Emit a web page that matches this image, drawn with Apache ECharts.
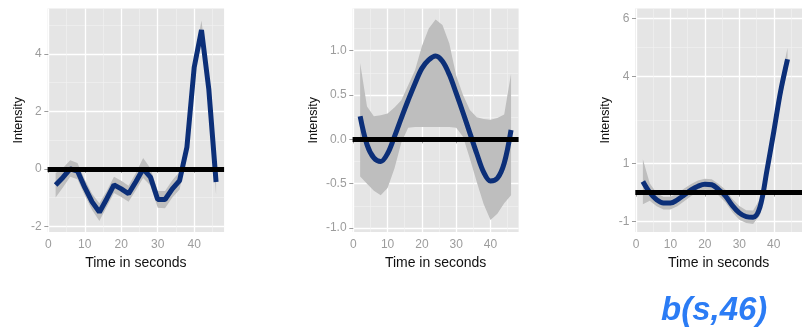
<!DOCTYPE html>
<html>
<head>
<meta charset="utf-8">
<script src="https://cdn.jsdelivr.net/npm/echarts@6/dist/echarts.min.js"></script>
<style>
  html, body { margin: 0; padding: 0; background: #fff; }
  #chart { width: 802px; height: 330px; }
</style>
</head>
<body>
<div id="chart"></div>
<script>
// time points (seconds)
const time = [2, 4, 6, 8, 10, 12, 14, 16, 18, 20, 22, 24, 26, 28, 30, 32, 34, 36, 38, 40, 42, 44, 46]
const time3 = [2, 4, 6, 8, 10, 12, 14, 16, 18, 20, 22, 24, 26, 28, 30, 32, 34, 36, 38, 40, 42, 44]

// panel 1: estimate + band
const p1Fit = [-0.56, -0.3, 0.0, -0.08, -0.65, -1.15, -1.51, -1.05, -0.56, -0.7, -0.87, -0.45, 0.0, -0.29, -1.07, -1.07, -0.7, -0.41, 0.75, 3.53, 4.83, 2.78, -0.46]
const p1Lo = [-1.0, -0.65, -0.28, -0.36, -0.93, -1.43, -1.82, -1.33, -0.84, -0.98, -1.15, -0.75, -0.32, -0.58, -1.36, -1.37, -1.0, -0.72, 0.45, 3.22, 4.5, 2.42, -0.9]
const p1Hi = [-0.15, 0.03, 0.3, 0.2, -0.37, -0.87, -1.2, -0.77, -0.28, -0.42, -0.59, -0.15, 0.38, 0.02, -0.77, -0.77, -0.4, -0.1, 1.05, 3.84, 5.16, 3.12, -0.05]

// panel 2
const p2Fit = [0.26, -0.06, -0.21, -0.25, -0.16, 0.03, 0.24, 0.44, 0.63, 0.8, 0.895, 0.94, 0.88, 0.73, 0.52, 0.3, 0.07, -0.16, -0.37, -0.47, -0.44, -0.27, 0.105]
const p2Lo = [-0.42, -0.5, -0.58, -0.63, -0.55, -0.33, -0.04, 0.13, 0.14, 0.14, 0.14, 0.14, 0.14, 0.14, 0.13, 0.03, -0.22, -0.48, -0.73, -0.91, -0.84, -0.72, -0.63]
const p2Hi = [0.86, 0.37, 0.26, 0.27, 0.29, 0.36, 0.44, 0.61, 0.78, 1.05, 1.25, 1.35, 1.29, 1.08, 0.72, 0.5, 0.33, 0.25, 0.23, 0.22, 0.24, 0.28, 0.74]

// panel 3 (cut at the right edge)
const p3Fit = [0.38, 0.0, -0.25, -0.36, -0.36, -0.25, -0.08, 0.09, 0.22, 0.29, 0.27, 0.1, -0.12, -0.45, -0.7, -0.83, -0.85, -0.5, 0.75, 2.1, 3.5, 4.6]
const p3Lo = [-0.4, -0.28, -0.47, -0.58, -0.58, -0.47, -0.3, -0.12, 0.03, 0.1, 0.08, -0.1, -0.34, -0.68, -0.94, -1.05, -1.08, -0.78, 0.45, 1.8, 3.15, 4.2]
const p3Hi = [1.15, 0.32, -0.02, -0.14, -0.14, -0.03, 0.14, 0.3, 0.42, 0.48, 0.46, 0.3, 0.1, -0.22, -0.46, -0.61, -0.62, -0.22, 1.05, 2.4, 3.85, 5.0]

// ticks
const xTicks = [0, 10, 20, 30, 40]
const xMinor = [5, 15, 25, 35, 45]
const p1YTicks = [-2, 0, 2, 4]
const p1YMinor = [-1, 1, 3, 5]
const p2YTicks = [-1, -0.5, 0, 0.5, 1]
const p2YMinor = [-0.75, -0.25, 0.25, 0.75, 1.25]
const p3YTicks = [-1, 1, 4, 6]
const p3YMinor = [0, 2.5, 5]

const xTitle = 'Time in seconds'
const yTitle = 'Intensity'
const caption = 'b(s,46)'

const panels = [
  { t: time, fit: p1Fit, lo: p1Lo, hi: p1Hi, yTicks: p1YTicks, yMinor: p1YMinor, ymin: -2.2, ymax: 5.58,
    grid: { left: 47.6, top: 8.5, width: 176.5, height: 223.5 }, nameGap: 23, smooth: false, fmt: v => String(v) },
  { t: time, fit: p2Fit, lo: p2Lo, hi: p2Hi, yTicks: p2YTicks, yMinor: p2YMinor, ymin: -1.045, ymax: 1.475,
    grid: { left: 352.6, top: 8.5, width: 166, height: 223.5 }, nameGap: 33, smooth: 0.35, fmt: v => v.toFixed(1) },
  { t: time3, fit: p3Fit, lo: p3Lo, hi: p3Hi, yTicks: p3YTicks, yMinor: p3YMinor, ymin: -1.36, ymax: 6.35,
    grid: { left: 635.3, top: 8.5, width: 180, height: 223.5 }, nameGap: 23, smooth: 0.35, fmt: v => String(v) }
]

const tickColor = '#9c9c9c'
const grids = [], xAxes = [], yAxes = [], series = []

// ribbon drawn as one polygon: upper bound forward, lower bound back
function ribbonItem(params, api) {
  if (params.dataIndex !== 0) return null
  const n = params.dataInsideLength
  const top = [], bottom = []
  for (let k = 0; k < n; k++) {
    const t = api.value(0, k)
    top.push(api.coord([t, api.value(2, k)]))
    bottom.push(api.coord([t, api.value(1, k)]))
  }
  return {
    type: 'polygon',
    shape: { points: top.concat(bottom.reverse()) },
    style: { fill: '#bebebe' },
    silent: true
  }
}

panels.forEach((p, i) => {
  grids.push(Object.assign({ show: true, backgroundColor: '#e5e5e5', borderWidth: 0, containLabel: false }, p.grid))
  // major x axis
  xAxes.push({
    type: 'value', gridIndex: i, min: -0.2, max: 48.2, position: 'bottom',
    name: xTitle, nameLocation: 'middle', nameGap: 22,
    nameTextStyle: { color: '#111', fontSize: 14, fontFamily: 'Liberation Sans' },
    axisLine: { show: false },
    axisTick: { show: true, length: 4, customValues: xTicks, lineStyle: { color: tickColor } },
    axisLabel: { customValues: xTicks, color: tickColor, fontSize: 12, margin: 7, fontFamily: 'Liberation Sans' },
    splitLine: { show: true, lineStyle: { color: '#ffffff', width: 1.3 } }
  })
  // minor x grid
  xAxes.push({
    type: 'value', gridIndex: i, min: -0.2, max: 48.2, position: 'top',
    axisLine: { show: false }, axisLabel: { show: false },
    axisTick: { show: false, customValues: xMinor },
    splitLine: { show: true, lineStyle: { color: '#f2f2f2', width: 0.6 } }
  })
  yAxes.push({
    type: 'value', gridIndex: i, min: p.ymin, max: p.ymax, position: 'left',
    name: yTitle, nameLocation: 'middle', nameGap: p.nameGap,
    nameTextStyle: { color: '#111', fontSize: 12.5, fontFamily: 'Liberation Sans' },
    axisLine: { show: false },
    axisTick: { show: true, length: 4, customValues: p.yTicks, lineStyle: { color: tickColor } },
    axisLabel: { customValues: p.yTicks, color: tickColor, fontSize: 12, margin: 6, formatter: p.fmt, fontFamily: 'Liberation Sans' },
    splitLine: { show: true, lineStyle: { color: '#ffffff', width: 1.3 } }
  })
  yAxes.push({
    type: 'value', gridIndex: i, min: p.ymin, max: p.ymax, position: 'right',
    axisLine: { show: false }, axisLabel: { show: false },
    axisTick: { show: false, customValues: p.yMinor },
    splitLine: { show: true, lineStyle: { color: '#f2f2f2', width: 0.6 } }
  })

  const xi = i * 2, yi = i * 2
  // confidence band
  series.push({
    type: 'custom', xAxisIndex: xi, yAxisIndex: yi, z: 2, silent: true,
    renderItem: ribbonItem,
    encode: { x: 0, y: [1, 2] },
    data: p.t.map((t, k) => [t, p.lo[k], p.hi[k]]),
    clip: true
  })
  // zero reference line
  series.push({
    type: 'line', xAxisIndex: xi, yAxisIndex: yi, data: [], z: 3, silent: true,
    markLine: {
      silent: true, symbol: 'none', label: { show: false }, animation: false,
      lineStyle: { color: '#000', width: 5, type: 'solid' },
      data: [{ yAxis: 0 }]
    }
  })
  // estimate
  series.push({
    type: 'line', xAxisIndex: xi, yAxisIndex: yi,
    data: p.t.map((t, k) => [t, p.fit[k]]), symbol: 'none', smooth: p.smooth,
    lineStyle: { color: '#0c2f78', width: 5 }, z: 4
  })
})

const chart = echarts.init(document.getElementById('chart'))
chart.setOption({
  animation: false,
  grid: grids,
  xAxis: xAxes,
  yAxis: yAxes,
  series: series,
  graphic: [{
    type: 'text', left: 661, top: 294,
    style: { text: caption, fill: '#2b7cf5', font: 'italic bold 33px "Liberation Sans", sans-serif' }
  }]
})
</script>
</body>
</html>
